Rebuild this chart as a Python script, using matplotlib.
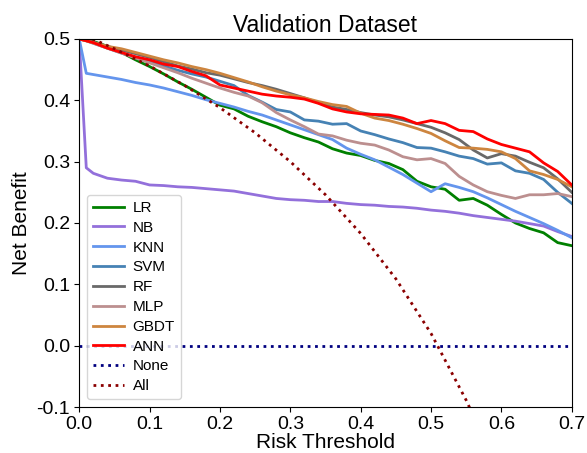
import numpy as np
import matplotlib
matplotlib.use('Agg')
import matplotlib.pyplot as plt

plt.rcParams['font.family'] = ['Liberation Sans', 'DejaVu Sans']
plt.rcParams['axes.unicode_minus'] = False

# risk thresholds (shared grid)
thresholds = [0.00, 0.01, 0.02, 0.04, 0.06, 0.08, 0.10, 0.12, 0.14, 0.16, 0.18,
              0.20, 0.22, 0.24, 0.26, 0.28, 0.30, 0.32, 0.34, 0.36, 0.38, 0.40,
              0.42, 0.44, 0.46, 0.48, 0.50, 0.52, 0.54, 0.56, 0.58, 0.60, 0.62,
              0.64, 0.66, 0.68, 0.70]

lr = [0.500, 0.499, 0.496, 0.488, 0.478, 0.466, 0.455, 0.443, 0.430, 0.418, 0.405,
      0.392, 0.386, 0.374, 0.365, 0.357, 0.347, 0.339, 0.332, 0.321, 0.314, 0.310,
      0.302, 0.297, 0.287, 0.268, 0.259, 0.255, 0.237, 0.240, 0.229, 0.214, 0.200,
      0.191, 0.184, 0.168, 0.163]
nb = [0.500, 0.290, 0.281, 0.273, 0.270, 0.268, 0.262, 0.261, 0.259, 0.258, 0.256,
      0.254, 0.252, 0.248, 0.244, 0.240, 0.238, 0.237, 0.235, 0.235, 0.232, 0.230,
      0.229, 0.227, 0.226, 0.224, 0.221, 0.219, 0.216, 0.212, 0.209, 0.206, 0.203,
      0.199, 0.195, 0.186, 0.178]
knn = [0.500, 0.444, 0.442, 0.438, 0.434, 0.429, 0.425, 0.420, 0.414, 0.408, 0.401,
       0.395, 0.389, 0.382, 0.376, 0.368, 0.360, 0.352, 0.344, 0.336, 0.322, 0.312,
       0.303, 0.291, 0.279, 0.265, 0.251, 0.264, 0.258, 0.251, 0.241, 0.230, 0.219,
       0.209, 0.199, 0.188, 0.176]
svm = [0.500, 0.497, 0.493, 0.485, 0.477, 0.470, 0.463, 0.456, 0.449, 0.443, 0.438,
       0.431, 0.424, 0.408, 0.397, 0.385, 0.381, 0.368, 0.366, 0.361, 0.362, 0.350,
       0.344, 0.337, 0.331, 0.323, 0.322, 0.316, 0.309, 0.305, 0.296, 0.298, 0.285,
       0.281, 0.271, 0.250, 0.232]
rf = [0.500, 0.498, 0.495, 0.488, 0.482, 0.476, 0.470, 0.463, 0.456, 0.451, 0.445,
      0.441, 0.435, 0.429, 0.424, 0.418, 0.411, 0.404, 0.396, 0.389, 0.385, 0.380,
      0.376, 0.373, 0.368, 0.362, 0.356, 0.347, 0.336, 0.319, 0.306, 0.313, 0.309,
      0.299, 0.290, 0.272, 0.250]
mlp = [0.500, 0.497, 0.493, 0.485, 0.477, 0.469, 0.461, 0.453, 0.445, 0.436, 0.428,
       0.420, 0.413, 0.407, 0.396, 0.380, 0.368, 0.357, 0.345, 0.342, 0.335, 0.330,
       0.327, 0.319, 0.308, 0.303, 0.305, 0.297, 0.276, 0.262, 0.251, 0.245, 0.240,
       0.246, 0.246, 0.248, 0.243]
gbdt = [0.500, 0.497, 0.494, 0.488, 0.484, 0.478, 0.472, 0.466, 0.461, 0.455, 0.450,
        0.444, 0.437, 0.430, 0.422, 0.415, 0.409, 0.404, 0.398, 0.393, 0.390, 0.379,
        0.371, 0.367, 0.361, 0.354, 0.346, 0.334, 0.323, 0.322, 0.320, 0.316, 0.305,
        0.285, 0.279, 0.271, 0.259]
ann = [0.500, 0.497, 0.494, 0.485, 0.478, 0.471, 0.466, 0.459, 0.455, 0.447, 0.440,
       0.425, 0.420, 0.415, 0.410, 0.407, 0.405, 0.402, 0.395, 0.386, 0.381, 0.378,
       0.377, 0.376, 0.371, 0.362, 0.367, 0.362, 0.351, 0.349, 0.337, 0.328, 0.322,
       0.316, 0.298, 0.284, 0.262]

# treat-all reference curve
all_x = [0.00, 0.05, 0.10, 0.15, 0.20, 0.25, 0.30, 0.35, 0.40, 0.45, 0.50, 0.55, 0.56]
all_y = [0.510, 0.484, 0.456, 0.424, 0.388, 0.347, 0.300, 0.246, 0.183, 0.109,
         0.020, -0.089, -0.114]

models = ['LR', 'NB', 'KNN', 'SVM', 'RF', 'MLP', 'GBDT', 'ANN']
values = [lr, nb, knn, svm, rf, mlp, gbdt, ann]
colors = ['green', 'mediumpurple', 'cornflowerblue', 'steelblue', 'dimgray',
          'rosybrown', 'peru', 'red']

fig = plt.figure(figsize=(5.87, 4.53), dpi=100)
ax = fig.add_axes([0.135, 0.1015, 0.839, 0.8125])

for name, vals, c in zip(models, values, colors):
    ax.plot(thresholds, vals, color=c, lw=2, label=name)

ax.plot([0, 0.7], [0, 0], color='navy', ls=':', lw=2, label='None')
ax.plot(all_x, all_y, color='darkred', ls=':', lw=2, label='All')

ax.set_xlim(0, 0.7)
ax.set_ylim(-0.1, 0.5)
ax.set_xticks(np.arange(0, 0.71, 0.1))
ax.set_yticks(np.arange(-0.1, 0.51, 0.1))
ax.set_xticklabels(['%.1f' % t for t in np.arange(0, 0.71, 0.1)])
ax.set_yticklabels(['%.1f' % t for t in np.arange(-0.1, 0.51, 0.1)])
ax.tick_params(labelsize=14, pad=3)

ax.set_title('Validation Dataset', fontsize=16.5, pad=5)
ax.set_xlabel('Risk Threshold', fontsize=15, labelpad=0)
ax.set_ylabel('Net Benefit', fontsize=15, labelpad=4)
ax.legend(loc='lower left', fontsize=11, handlelength=2.0, handletextpad=0.6,
          labelspacing=0.38)

fig.savefig('out.png', dpi=100)
